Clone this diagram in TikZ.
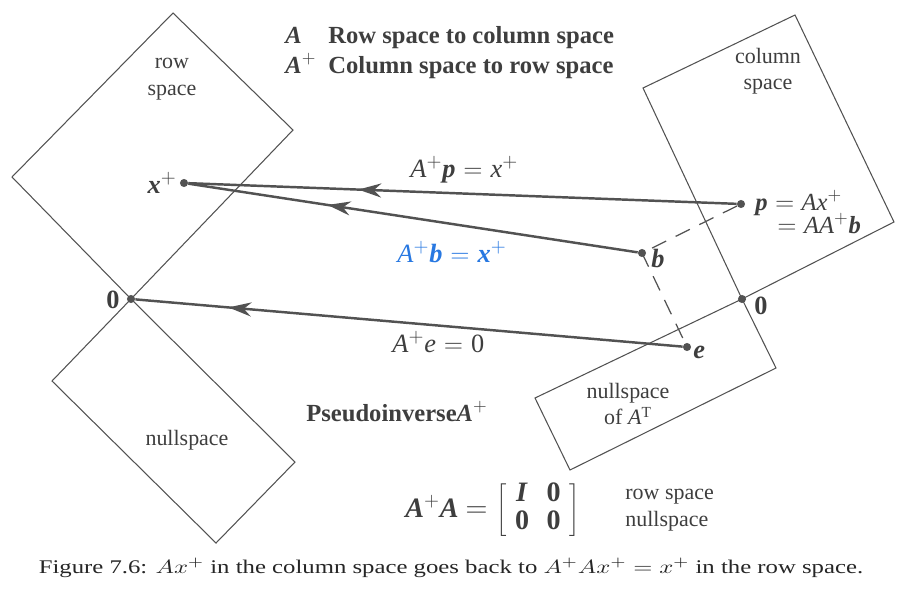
\documentclass[tikz,border=0pt]{standalone}
\usepackage{fontspec}
\setmainfont{Liberation Serif}
\usepackage{graphicx}
\usepackage{tikz}
\usetikzlibrary{positioning,arrows.meta,decorations.markings}
\definecolor{pvink}{RGB}{62,62,62}
\definecolor{pvline}{RGB}{82,82,82}
\definecolor{pvblue}{RGB}{40,120,225}
\newcommand{\vi}[1]{\textit{#1}}
\newcommand{\vb}[1]{\textbf{\textit{#1}}}
\newcommand{\pls}{\ensuremath{^{+}}}
\newcommand{\eqs}{\hspace{0.3em}$=$\hspace{0.3em}}
\tikzset{
  subsp/.style={draw=pvline, line width=0.6pt},
  dot/.style={circle, fill=pvline, inner sep=0pt, minimum size=4.6pt},
  vecline/.style={line width=1.4pt, draw=pvline, postaction={decorate},
              decoration={markings, mark=at position #1 with
              {\arrow{Stealth[length=13pt,width=8pt]}}}},
  proj/.style={draw=pvline, line width=0.7pt, dash pattern=on 9pt off 6pt},
  lbl/.style={font=\fontsize{12.5}{15}\selectfont, text=pvink, align=center, inner sep=0pt},
  eqn/.style={font=\fontsize{15}{18}\selectfont, text=pvink, inner sep=0pt, anchor=base west},
  headline/.style={font=\fontsize{14}{17}\selectfont\bfseries, text=pvink, inner sep=0pt, anchor=base west},
}

\begin{document}
\begin{tikzpicture}[x=0.02cm, y=-0.02cm]
\useasboundingbox (0,0) rectangle (901,592);
% the four subspaces
\coordinate (rowtop) at (173,13);
\coordinate (rowleft) at (12,177);
\coordinate (rowright) at (293,130);
\coordinate (nullleft) at (52,381);
\coordinate (nullright) at (295,462);
\coordinate (nullbot) at (216,543);
\coordinate (coltop) at (795,15);
\coordinate (colleft) at (643,88);
\coordinate (colright) at (894,222);
\coordinate (lnright) at (776,368);
\coordinate (lnbot) at (570,470);
\coordinate (lnleft) at (535,398);
\node[dot] (orow) at (131,299) {};
\node[dot] (ocol) at (742,299) {};
\draw[subsp] (rowtop) -- (rowright) -- (orow.center) -- (rowleft) -- cycle;
\draw[subsp] (orow.center) -- (nullright) -- (nullbot) -- (nullleft) -- cycle;
\draw[subsp] (coltop) -- (colright) -- (ocol.center) -- (colleft) -- cycle;
\draw[subsp] (ocol.center) -- (lnright) -- (lnbot) -- (lnleft) -- cycle;
\node[lbl] (rowlbl) at (172,79) {row\\space};
\node[lbl] (nulllbl) at (187,440) {nullspace};
\node[lbl] (collbl) at (768,71) {column\\space};
\node[lbl] (lnlbl) at (628,404) {nullspace\\of \vi{A}\textsuperscript{T}};
% vectors
\node[dot] (xplus) at (184,183) {};
\node[dot] (pvec) at (741,204) {};
\node[dot] (bvec) at (642,253) {};
\node[dot] (evec) at (687,347) {};
\draw[proj] (pvec) -- (bvec.center) -- (evec);
\draw[vecline=0.69] (pvec) -- (xplus);
\draw[vecline=0.69] (bvec) -- (xplus);
\draw[vecline=0.83] (evec) -- (orow);
\node[eqn, anchor=base east] (xlbl) at (177,193) {\vb{x}\pls};
\node[eqn, font=\fontsize{15}{18}\selectfont\bfseries, anchor=base east] (o1lbl) at (120,308) {0};
\node[eqn, font=\fontsize{15}{18}\selectfont\bfseries] (o2lbl) at (754,314) {0};
\node[eqn, font=\fontsize{14}{17}\selectfont] (plbl) at (755,210) {\vb{p}\eqs\vi{Ax}\pls};
\node[eqn, font=\fontsize{14}{17}\selectfont] (plbl2) at (777,233) {$=$\hspace{0.3em}\vi{AA}\pls\vb{b}};
\node[eqn] (blbl) at (651,267) {\vb{b}};
\node[eqn] (elbl) at (693,358) {\vb{e}};
\node[eqn] (peq) at (410,177) {\vi{A}\pls\vb{p}\eqs\vi{x}\pls};
\node[eqn, text=pvblue] (beq) at (397,262) {\vi{A}\pls\vb{b}\eqs\vb{x}\pls};
\node[eqn] (eeq) at (392,352) {\vi{A}\pls\vi{e}\eqs0};
% legend and formula
\node[headline] (h1a) at (285,43) {\vb{A}};
\node[headline] (h1b) at (328,43) {Row space to column space};
\node[headline] (h2a) at (285,73) {\vb{A}\pls};
\node[headline] (h2b) at (328,73) {Column space to row space};
\node[headline] (pinv) at (306,421) {Pseudoinverse\vb{A}\pls};
\node[eqn, anchor=west, font=\fontsize{16}{19}\selectfont] (mat) at (405,510)
  {\vb{A}\pls\vb{A} $=\renewcommand{\arraystretch}{0.85}\left[\begin{array}{cc}
   \mbox{\vb{I}} & \mbox{\textbf{0}}\\ \mbox{\textbf{0}} & \mbox{\textbf{0}}\end{array}\right]$};
\node[lbl, align=left, anchor=west] (matlbl) at (625,510) {row space\\nullspace};
\node[text=black!85, font=\fontsize{11}{13}\selectfont, inner sep=0pt] (cap) at (451,568)
  {\scalebox{1.28}[1]{Figure 7.6: $Ax^+$ in the column space goes back to $A^+Ax^+ = x^+$ in the row space.}};
\end{tikzpicture}
\end{document}
